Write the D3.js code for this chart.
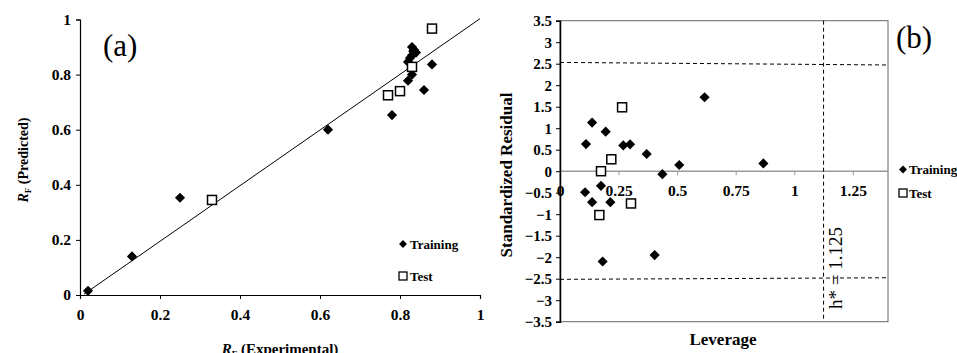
<!DOCTYPE html>
<html lang="en">
<head>
  <meta charset="UTF-8">
  <title>Rf model: predicted vs experimental and Williams plot</title>
  <script src="https://d3js.org/d3.v7.min.js"></script>
  <style>
    body { margin: 0; background: #fff; }
    svg { display: block; font-family: 'Liberation Serif', 'Times New Roman', serif; }
    .axis path, .axis line { stroke: #000; }
  </style>
</head>
<body>
  <svg id="chart" width="957" height="353"></svg>

  <script>
    // panel (a): predicted vs experimental Rf
    const trainA = [
      [0.02, 0.015], [0.13, 0.14], [0.25, 0.353], [0.62, 0.6], [0.78, 0.653],
      [0.82, 0.778], [0.83, 0.8], [0.82, 0.846], [0.825, 0.86], [0.83, 0.87],
      [0.83, 0.9], [0.835, 0.89], [0.84, 0.88], [0.833, 0.885], [0.86, 0.744], [0.88, 0.837]
    ];
    const testA = [[0.33, 0.345], [0.77, 0.725], [0.80, 0.74], [0.83, 0.828], [0.88, 0.967]];
    const fitLine = [[0.01, 0.003], [1, 1.003]];
    const ticksA = [0, 0.2, 0.4, 0.6, 0.8, 1];

    // panel (b): leverage vs standardized residual
    const trainB = [
      [0.617, 1.72], [0.137, 1.13], [0.195, 0.92], [0.111, 0.63], [0.27, 0.6],
      [0.299, 0.625], [0.37, 0.4], [0.509, 0.144], [0.868, 0.18], [0.437, -0.07],
      [0.175, -0.34], [0.107, -0.49], [0.137, -0.72], [0.215, -0.72], [0.182, -2.1], [0.404, -1.95]
    ];
    const testB = [[0.265, 1.486], [0.219, 0.277], [0.175, 0.0], [0.168, -1.02], [0.303, -0.75]];
    const ticksBx = [0, 0.25, 0.5, 0.75, 1, 1.25];
    const ticksBy = [3.5, 3, 2.5, 2, 1.5, 1, 0.5, 0, -0.5, -1, -1.5, -2, -2.5, -3, -3.5];
    const hStar = 1.125;
    const limitUp = [[0, 2.53], [1.4, 2.47]];
    const limitDown = [[0, -2.515], [1.4, -2.478]];

    const svg = d3.select("#chart");
    const diamond = d3.symbol().type(d3.symbolDiamond2).size(66);
    const SERIF = "'Liberation Serif', 'Times New Roman', serif";

    // style tick labels: bold Times-like
    function tickText(g, size) {
      g.attr("font-family", null);
      g.selectAll("text")
        .style("font-family", SERIF)
        .style("font-weight", "bold")
        .style("font-size", size + "px")
        .attr("fill", "#000");
    }

    // ---------- (a) ----------
    const xA = d3.scaleLinear().domain([0, 1]).range([80, 480]);
    const yA = d3.scaleLinear().domain([0, 1]).range([295, 19.5]);
    const a = svg.append("g");

    a.append("g").attr("class", "axis").attr("transform", "translate(0,295)")
      .call(d3.axisBottom(xA).tickValues(ticksA).tickFormat(d3.format("")).tickSize(4).tickPadding(10))
      .call(tickText, 15.5);
    a.append("g").attr("class", "axis").attr("transform", "translate(80,0)")
      .call(d3.axisLeft(yA).tickValues(ticksA).tickFormat(d3.format("")).tickSize(4).tickPadding(5))
      .call(tickText, 15.5);
    a.selectAll(".domain").attr("stroke-width", 1.2);

    a.append("path")
      .attr("d", d3.line().x(d => xA(d[0])).y(d => yA(d[1]))(fitLine))
      .attr("stroke", "#000").attr("stroke-width", 1).attr("fill", "none");

    a.selectAll(".trA").data(trainA).enter().append("path")
      .attr("transform", d => `translate(${xA(d[0])},${yA(d[1])})`)
      .attr("d", diamond).attr("fill", "#000");
    a.selectAll(".teA").data(testA).enter().append("rect")
      .attr("x", d => xA(d[0]) - 4.5).attr("y", d => yA(d[1]) - 4.5)
      .attr("width", 9).attr("height", 9)
      .attr("fill", "#fff").attr("stroke", "#000").attr("stroke-width", 1.5);

    a.append("text").attr("x", 103).attr("y", 56).style("font-size", "31px").text("(a)");

    // legend (a)
    a.append("path").attr("transform", "translate(403,244)").attr("d", d3.symbol().type(d3.symbolDiamond2).size(40)).attr("fill", "#000");
    a.append("text").attr("x", 410).attr("y", 249).style("font-size", "13px").style("font-weight", "bold").text("Training");
    a.append("rect").attr("x", 399).attr("y", 272).attr("width", 8).attr("height", 8)
      .attr("fill", "#fff").attr("stroke", "#000").attr("stroke-width", 1.3);
    a.append("text").attr("x", 410).attr("y", 281).style("font-size", "13px").style("font-weight", "bold").text("Test");

    // axis titles (a)
    const ytA = a.append("text").attr("transform", "translate(28,160) rotate(-90)")
      .attr("text-anchor", "middle").style("font-size", "14px").style("font-weight", "bold");
    ytA.append("tspan").style("font-style", "italic").text("R");
    ytA.append("tspan").attr("dy", 3).style("font-size", "9px").text("F");
    ytA.append("tspan").attr("dy", -3).text(" (Predicted)");

    const xtA = a.append("text").attr("x", 280).attr("y", 354)
      .attr("text-anchor", "middle").style("font-size", "15px").style("font-weight", "bold");
    xtA.append("tspan").style("font-style", "italic").text("R");
    xtA.append("tspan").attr("dy", 3).style("font-size", "9px").text("F");
    xtA.append("tspan").attr("dy", -3).text(" (Experimental)");

    // ---------- (b) ----------
    const xB = d3.scaleLinear().domain([0, 1.4]).range([560, 888]);
    const yB = d3.scaleLinear().domain([-3.5, 3.5]).range([321.7, 20.7]);
    const b = svg.append("g");

    // plot box
    b.append("rect").attr("x", xB(0)).attr("y", yB(3.5))
      .attr("width", xB(1.4) - xB(0)).attr("height", yB(-3.5) - yB(3.5))
      .attr("fill", "none").attr("stroke", "#666").attr("stroke-width", 1);

    // zero line with ticks and labels
    b.append("line").attr("x1", xB(0)).attr("x2", xB(1.4)).attr("y1", yB(0)).attr("y2", yB(0))
      .attr("stroke", "#999").attr("stroke-width", 1.5);
    b.append("g").attr("transform", `translate(0,${yB(0)})`)
      .call(d3.axisBottom(xB).tickValues(ticksBx).tickFormat(d3.format("")).tickSize(4).tickPadding(10))
      .call(g => g.select(".domain").remove())
      .call(g => g.selectAll("line").attr("stroke", "#999"))
      .call(tickText, 15.5);

    b.append("g").attr("class", "axis").attr("transform", `translate(${xB(0)},0)`)
      .call(d3.axisLeft(yB).tickValues(ticksBy).tickFormat(d3.format("")).tickSize(4).tickPadding(4))
      .call(g => g.select(".domain").attr("stroke-width", 1.5))
      .call(tickText, 15);

    const lineB = d3.line().x(d => xB(d[0])).y(d => yB(d[1]));
    [limitUp, limitDown].forEach(l => b.append("path").attr("d", lineB(l))
      .attr("stroke", "#000").attr("stroke-width", 1).attr("stroke-dasharray", "4,3").attr("fill", "none"));
    b.append("line").attr("x1", xB(hStar)).attr("x2", xB(hStar)).attr("y1", yB(3.5)).attr("y2", yB(-3.5))
      .attr("stroke", "#000").attr("stroke-width", 1).attr("stroke-dasharray", "4,3");

    b.selectAll(".trB").data(trainB).enter().append("path")
      .attr("transform", d => `translate(${xB(d[0])},${yB(d[1])})`)
      .attr("d", diamond).attr("fill", "#000");
    b.selectAll(".teB").data(testB).enter().append("rect")
      .attr("x", d => xB(d[0]) - 4.5).attr("y", d => yB(d[1]) - 4.5)
      .attr("width", 9).attr("height", 9)
      .attr("fill", "#fff").attr("stroke", "#000").attr("stroke-width", 1.5);

    b.append("text").attr("transform", `translate(${xB(hStar) + 18},309) rotate(-90)`)
      .style("font-size", "19px").text("h* = " + hStar);

    b.append("text").attr("x", 896).attr("y", 48).style("font-size", "31px").text("(b)");

    // legend (b)
    b.append("path").attr("transform", "translate(903,169.5)").attr("d", d3.symbol().type(d3.symbolDiamond2).size(40)).attr("fill", "#000");
    b.append("text").attr("x", 909).attr("y", 174).style("font-size", "13px").style("font-weight", "bold").text("Training");
    b.append("rect").attr("x", 899).attr("y", 189).attr("width", 8).attr("height", 8)
      .attr("fill", "#fff").attr("stroke", "#000").attr("stroke-width", 1.3);
    b.append("text").attr("x", 909).attr("y", 198).style("font-size", "13px").style("font-weight", "bold").text("Test");

    b.append("text").attr("transform", "translate(512,175) rotate(-90)").attr("text-anchor", "middle")
      .style("font-size", "17px").style("font-weight", "bold").text("Standardized Residual");
    b.append("text").attr("x", 723).attr("y", 345).attr("text-anchor", "middle")
      .style("font-size", "17px").style("font-weight", "bold").text("Leverage");
  </script>
</body>
</html>
